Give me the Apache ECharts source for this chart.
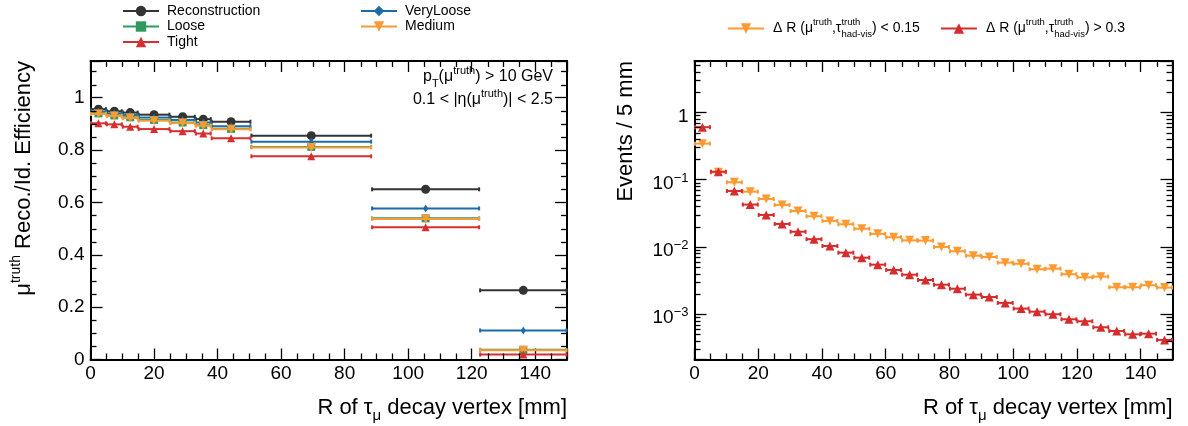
<!DOCTYPE html>
<html><head><meta charset="utf-8">
<script src="https://cdn.jsdelivr.net/npm/echarts@6.0.0/dist/echarts.min.js"></script>
<style>html,body{margin:0;padding:0;background:#fff}#c{width:1188px;height:426px}</style>
</head><body><div id="c"></div>
<script>
// ---------------- data ----------------
// Left panel: efficiency vs R, variable bins
const effEdges = [0, 5, 10, 15, 25, 33, 38, 50.5, 88.5, 122.5, 150];
const effReco      = [0.956, 0.948, 0.943, 0.935, 0.927, 0.918, 0.908, 0.855, 0.650, 0.264];
const effVeryLoose = [0.947, 0.940, 0.934, 0.924, 0.915, 0.905, 0.891, 0.832, 0.577, 0.111];
const effLoose     = [0.940, 0.932, 0.925, 0.915, 0.905, 0.895, 0.881, 0.812, 0.539, 0.037];
const effMedium    = [0.938, 0.930, 0.922, 0.912, 0.903, 0.893, 0.879, 0.810, 0.537, 0.035];
const effTight     = [0.902, 0.898, 0.889, 0.880, 0.872, 0.863, 0.845, 0.776, 0.505, 0.019];

// Right panel: events / 5 mm
const distEdges = [0, 5, 10, 15, 20, 25, 30, 35, 40, 45, 50, 55, 60, 65, 70, 75, 80, 85, 90, 95,
                   100, 105, 110, 115, 120, 125, 130, 135, 140, 145, 150];
const distLowDR = [0.342, 0.128, 0.0912, 0.0661, 0.0515, 0.0420, 0.0341, 0.0285, 0.0243, 0.0217,
                   0.0186, 0.0156, 0.0139, 0.0125, 0.0124, 0.00997, 0.00861, 0.00740, 0.00708, 0.00583,
                   0.0056, 0.00465, 0.00474, 0.00392, 0.00353, 0.00361, 0.00251, 0.00251, 0.00269, 0.00248];
const distHighDR = [0.60, 0.131, 0.0677, 0.0425, 0.0298, 0.0219, 0.0168, 0.0130, 0.0103, 0.0082,
                    0.00691, 0.00544, 0.00454, 0.00386, 0.00322, 0.00274, 0.00239, 0.00195, 0.00180, 0.00147,
                    0.00121, 0.00109, 0.000997, 0.000840, 0.000784, 0.000638, 0.000563, 0.000502, 0.000513, 0.000414];

// axis ranges / ticks
const xRange = [0, 150];
const effRange = [0, 1.14];
const logRange = [2.12e-4, 5.78];
const xMajor = 20, xMinor = 5;
const effMajor = 0.2, effMinor = 0.05;

// ---------------- styling ----------------
const FONT = '"Liberation Sans", Arial, Helvetica, sans-serif';
const C = {
  reco: '#333333', veryloose: '#1c6aa8', loose: '#2f9a5e', medium: '#f99a36', tight: '#d62f2f',
  low: '#ff9a33', high: '#d52d2d'
};

const chart = echarts.init(document.getElementById('c'), null, {renderer: 'canvas'});

function centers(edges) { return edges.slice(0, -1).map((e, i) => (e + edges[i + 1]) / 2); }

function errSeries(color, xi, yi, edges, vals, capH, lw, z) {
  return {
    type: 'custom', xAxisIndex: xi, yAxisIndex: yi, silent: true, z: z,
    data: vals.map((v, i) => [edges[i], edges[i + 1], v]),
    encode: {x: [0, 1], y: 2},
    renderItem: function (params, api) {
      const lo = api.value(0), hi = api.value(1), v = api.value(2);
      const a = api.coord([lo, v]), b = api.coord([hi, v]);
      const st = {stroke: color, lineWidth: lw};
      return {type: 'group', children: [
        {type: 'line', shape: {x1: a[0], y1: a[1], x2: b[0], y2: b[1]}, style: st},
        {type: 'line', shape: {x1: a[0] + 0.5, y1: a[1] - capH, x2: a[0] + 0.5, y2: a[1] + capH}, style: st},
        {type: 'line', shape: {x1: b[0] - 0.5, y1: b[1] - capH, x2: b[0] - 0.5, y2: b[1] + capH}, style: st}
      ]};
    }
  };
}
function markSeries(color, xi, yi, edges, vals, symbol, size, rot, z) {
  const cs = centers(edges);
  return {
    type: 'scatter', xAxisIndex: xi, yAxisIndex: yi, silent: true, z: z,
    symbol: symbol, symbolSize: size, symbolRotate: rot || 0,
    itemStyle: {color: color, opacity: 1},
    data: vals.map((v, i) => [cs[i], v])
  };
}
function legendSeries(name, color, xi, yi, symbol, size, rot) {
  return {
    type: 'line', name: name, xAxisIndex: xi, yAxisIndex: yi, data: [],
    symbol: symbol, symbolSize: size, symbolRotate: rot || 0,
    itemStyle: {color: color}, lineStyle: {color: color, width: 2}
  };
}
// minor ticks drawn through the axis scales
function minorTicks(xi, yi, xVals, yVals, yRef, len) {
  return {
    type: 'custom', xAxisIndex: xi, yAxisIndex: yi, silent: true, z: 20,
    data: [[xRange[0], yRef]], encode: {x: 0, y: 1},
    renderItem: function (params, api) {
      const cs = params.coordSys;
      const st = {stroke: '#000', lineWidth: 1.3};
      const ch = [];
      xVals.forEach(v => {
        const px = Math.round(api.coord([v, yRef])[0]) + 0.5;
        ch.push({type: 'line', shape: {x1: px, y1: cs.y + cs.height, x2: px, y2: cs.y + cs.height - len}, style: st});
        ch.push({type: 'line', shape: {x1: px, y1: cs.y, x2: px, y2: cs.y + len}, style: st});
      });
      yVals.forEach(v => {
        const py = Math.round(api.coord([xRange[0], v])[1]) + 0.5;
        ch.push({type: 'line', shape: {x1: cs.x, y1: py, x2: cs.x + len, y2: py}, style: st});
        ch.push({type: 'line', shape: {x1: cs.x + cs.width, y1: py, x2: cs.x + cs.width - len, y2: py}, style: st});
      });
      return {type: 'group', children: ch};
    }
  };
}
const xMinorVals = [];
for (let v = xRange[0] + xMinor; v < xRange[1] - 1e-9; v += xMinor) if (Math.abs(v / xMajor - Math.round(v / xMajor)) > 1e-6) xMinorVals.push(v);
const effMinorVals = [];
for (let k = 1; k * effMinor < effRange[1]; k++) { const v = k * effMinor; if (Math.abs(v / effMajor - Math.round(v / effMajor)) > 1e-6) effMinorVals.push(v); }
const logMinorVals = [];
for (let n = -4; n <= 0; n++) for (let k = 2; k <= 9; k++) { const v = k * Math.pow(10, n); if (v > logRange[0] && v < logRange[1]) logMinorVals.push(v); }

const axisLine = {show: true, onZero: false, lineStyle: {color: '#000', width: 2}};
const labelStyle = {color: '#000', fontSize: 19, fontFamily: FONT};
function xAxes(gi) {
  const base = {type: 'value', gridIndex: gi, min: xRange[0], max: xRange[1], interval: xMajor,
    splitLine: {show: false}, axisLine: axisLine,
    axisTick: {show: true, inside: true, length: 11, lineStyle: {color: '#000', width: 1.3}}};
  return [
    Object.assign({}, base, {position: 'bottom', axisLabel: Object.assign({}, labelStyle, {margin: 5,
      formatter: v => (Math.abs(v % xMajor) < 1e-6 ? String(v) : '')})}),
    Object.assign({}, base, {position: 'top', axisLabel: {show: false}})
  ];
}
const effFmt = v => { const r = Math.round(v / effMajor) * effMajor; return Math.abs(v - r) < 1e-6 ? String(+r.toFixed(1)) : ''; };
const logFmt = v => { const l = Math.log10(v), e = Math.round(l); if (Math.abs(l - e) > 0.01) return ''; return e === 0 ? '1' : '10{sup|−' + (-e) + '}'; };
const effYBase = {type: 'value', gridIndex: 0, min: effRange[0], max: effRange[1], interval: effMajor,
  splitLine: {show: false}, axisLine: axisLine,
  axisTick: {show: true, inside: true, length: 12, lineStyle: {color: '#000', width: 1.3}}};
const logYBase = {type: 'log', logBase: 10, gridIndex: 1, min: logRange[0], max: logRange[1],
  splitLine: {show: false}, axisLine: axisLine,
  axisTick: {show: true, inside: true, length: 12, lineStyle: {color: '#000', width: 1.3}}};

const supS = {fontSize: 9.5, fontFamily: FONT, color: '#000', verticalAlign: 'top', lineHeight: 10};
const subS = {fontSize: 9.5, fontFamily: FONT, color: '#000', verticalAlign: 'bottom', lineHeight: 10};
const LEG_R = {
  'ΔR < 0.15': 'Δ R (μ{sup|truth},τ{sup0|truth}{sub|had-vis}) < 0.15',
  'ΔR > 0.3':  'Δ R (μ{sup|truth},τ{sup0|truth}{sub|had-vis}) > 0.3'
};
const legText = {fontSize: 14, fontFamily: FONT, color: '#000', lineHeight: 13, padding: [0, 0, 0, 3]};

const option = {
  animation: false,
  backgroundColor: '#fff',
  grid: [
    {left: 90.5, top: 61, width: 476.5, height: 298.5, outerBoundsMode: 'none'},
    {left: 694.5, top: 61, width: 478, height: 298.5, outerBoundsMode: 'none'}
  ],
  xAxis: [].concat(xAxes(0), xAxes(1)),
  yAxis: [
    Object.assign({}, effYBase, {position: 'left', axisLabel: Object.assign({}, labelStyle, {margin: 6, formatter: effFmt})}),
    Object.assign({}, effYBase, {position: 'right', axisLabel: {show: false}}),
    Object.assign({}, logYBase, {position: 'left', axisLabel: Object.assign({}, labelStyle, {margin: 6, formatter: logFmt,
      lineHeight: 24, padding: [8, 0, 0, 0],
      rich: {sup: {fontSize: 13, fontFamily: FONT, color: '#000', verticalAlign: 'top', lineHeight: 13}}})}),
    Object.assign({}, logYBase, {position: 'right', axisLabel: {show: false}})
  ],
  legend: [
    {data: ['Reconstruction', 'Loose', 'Tight'], orient: 'vertical', left: 122, top: 4, padding: 0, itemWidth: 36, itemHeight: 13,
     itemGap: 1.5, selectedMode: false, textStyle: legText},
    {data: ['VeryLoose', 'Medium'], orient: 'vertical', left: 360, top: 4, padding: 0, itemWidth: 36, itemHeight: 13,
     itemGap: 1.5, selectedMode: false, textStyle: legText},
    {data: ['ΔR < 0.15', 'ΔR > 0.3'], orient: 'horizontal', left: 727, top: 17.5, padding: 0, itemWidth: 36, itemHeight: 13,
     itemGap: 20, selectedMode: false, formatter: n => LEG_R[n],
     textStyle: {fontSize: 14, fontFamily: FONT, color: '#000', lineHeight: 22, padding: [0, 0, 0, 4],
       rich: {sup: supS, sup0: Object.assign({}, supS, {width: 0}), sub: subS}}}
  ],
  graphic: [
    {type: 'text', x: 553, y: 77, z: 100, style: {text: 'p{sub|T}(μ{sup|truth}) > 10 GeV', align: 'right', verticalAlign: 'middle',
      fontSize: 16, fontFamily: FONT, fill: '#000', lineHeight: 24,
      rich: {sup: {fontSize: 11, fontFamily: FONT, verticalAlign: 'top', lineHeight: 12}, sub: {fontSize: 11, fontFamily: FONT, verticalAlign: 'bottom', lineHeight: 12}}}},
    {type: 'text', x: 553, y: 100, z: 100, style: {text: '0.1 < |η(μ{sup|truth})| < 2.5', align: 'right', verticalAlign: 'middle',
      fontSize: 16, fontFamily: FONT, fill: '#000', lineHeight: 24,
      rich: {sup: {fontSize: 11, fontFamily: FONT, verticalAlign: 'top', lineHeight: 12}}}},
    {type: 'text', x: 24, y: 61, rotation: Math.PI / 2, style: {text: 'μ{sup|truth} Reco./Id. Efficiency', align: 'right', verticalAlign: 'middle',
      fontSize: 22, fontFamily: FONT, fill: '#000', lineHeight: 30,
      rich: {sup: {fontSize: 14, fontFamily: FONT, verticalAlign: 'top', lineHeight: 15}}}},
    {type: 'text', x: 626, y: 61, rotation: Math.PI / 2, style: {text: 'Events / 5 mm', align: 'right', verticalAlign: 'middle',
      fontSize: 22, fontFamily: FONT, fill: '#000'}},
    {type: 'text', x: 567, y: 408, style: {text: 'R of τ{sub|μ} decay vertex [mm]', align: 'right', verticalAlign: 'middle',
      fontSize: 22, fontFamily: FONT, fill: '#000', lineHeight: 30,
      rich: {sub: {fontSize: 15, fontFamily: FONT, verticalAlign: 'bottom', lineHeight: 16}}}},
    {type: 'text', x: 1172.5, y: 408, style: {text: 'R of τ{sub|μ} decay vertex [mm]', align: 'right', verticalAlign: 'middle',
      fontSize: 22, fontFamily: FONT, fill: '#000', lineHeight: 30,
      rich: {sub: {fontSize: 15, fontFamily: FONT, verticalAlign: 'bottom', lineHeight: 16}}}}
  ],
  series: [
    // legend carriers
    legendSeries('Reconstruction', C.reco, 0, 0, 'circle', 8),
    legendSeries('Loose', C.loose, 0, 0, 'rect', 8),
    legendSeries('Tight', C.tight, 0, 0, 'triangle', 8),
    legendSeries('VeryLoose', C.veryloose, 0, 0, 'diamond', [5, 8]),
    legendSeries('Medium', C.medium, 0, 0, 'triangle', 9, 180),
    legendSeries('ΔR < 0.15', C.low, 2, 2, 'triangle', 9, 180),
    legendSeries('ΔR > 0.3', C.high, 2, 2, 'triangle', 9),
    // left panel
    errSeries(C.reco, 0, 0, effEdges, effReco, 2, 2, 2),
    markSeries(C.reco, 0, 0, effEdges, effReco, 'circle', 9, 0, 3),
    errSeries(C.veryloose, 0, 0, effEdges, effVeryLoose, 2, 2, 2),
    markSeries(C.veryloose, 0, 0, effEdges, effVeryLoose, 'diamond', [5, 8], 0, 3),
    errSeries(C.loose, 0, 0, effEdges, effLoose, 2, 2, 2),
    markSeries(C.loose, 0, 0, effEdges, effLoose, 'rect', 8, 0, 3),
    errSeries(C.medium, 0, 0, effEdges, effMedium, 2, 2, 4),
    markSeries(C.medium, 0, 0, effEdges, effMedium, 'triangle', 9, 180, 5),
    errSeries(C.tight, 0, 0, effEdges, effTight, 2, 2, 4),
    markSeries(C.tight, 0, 0, effEdges, effTight, 'triangle', 8, 0, 5),
    minorTicks(0, 0, xMinorVals, effMinorVals, 0.5, 6),
    // right panel
    errSeries(C.low, 2, 2, distEdges, distLowDR, 2, 2, 2),
    markSeries(C.low, 2, 2, distEdges, distLowDR, 'triangle', 9, 180, 3),
    errSeries(C.high, 2, 2, distEdges, distHighDR, 2, 2, 4),
    markSeries(C.high, 2, 2, distEdges, distHighDR, 'triangle', 9, 0, 5),
    minorTicks(2, 2, xMinorVals, logMinorVals, 0.01, 6)
  ]
};
chart.setOption(option);
</script>
</body></html>
